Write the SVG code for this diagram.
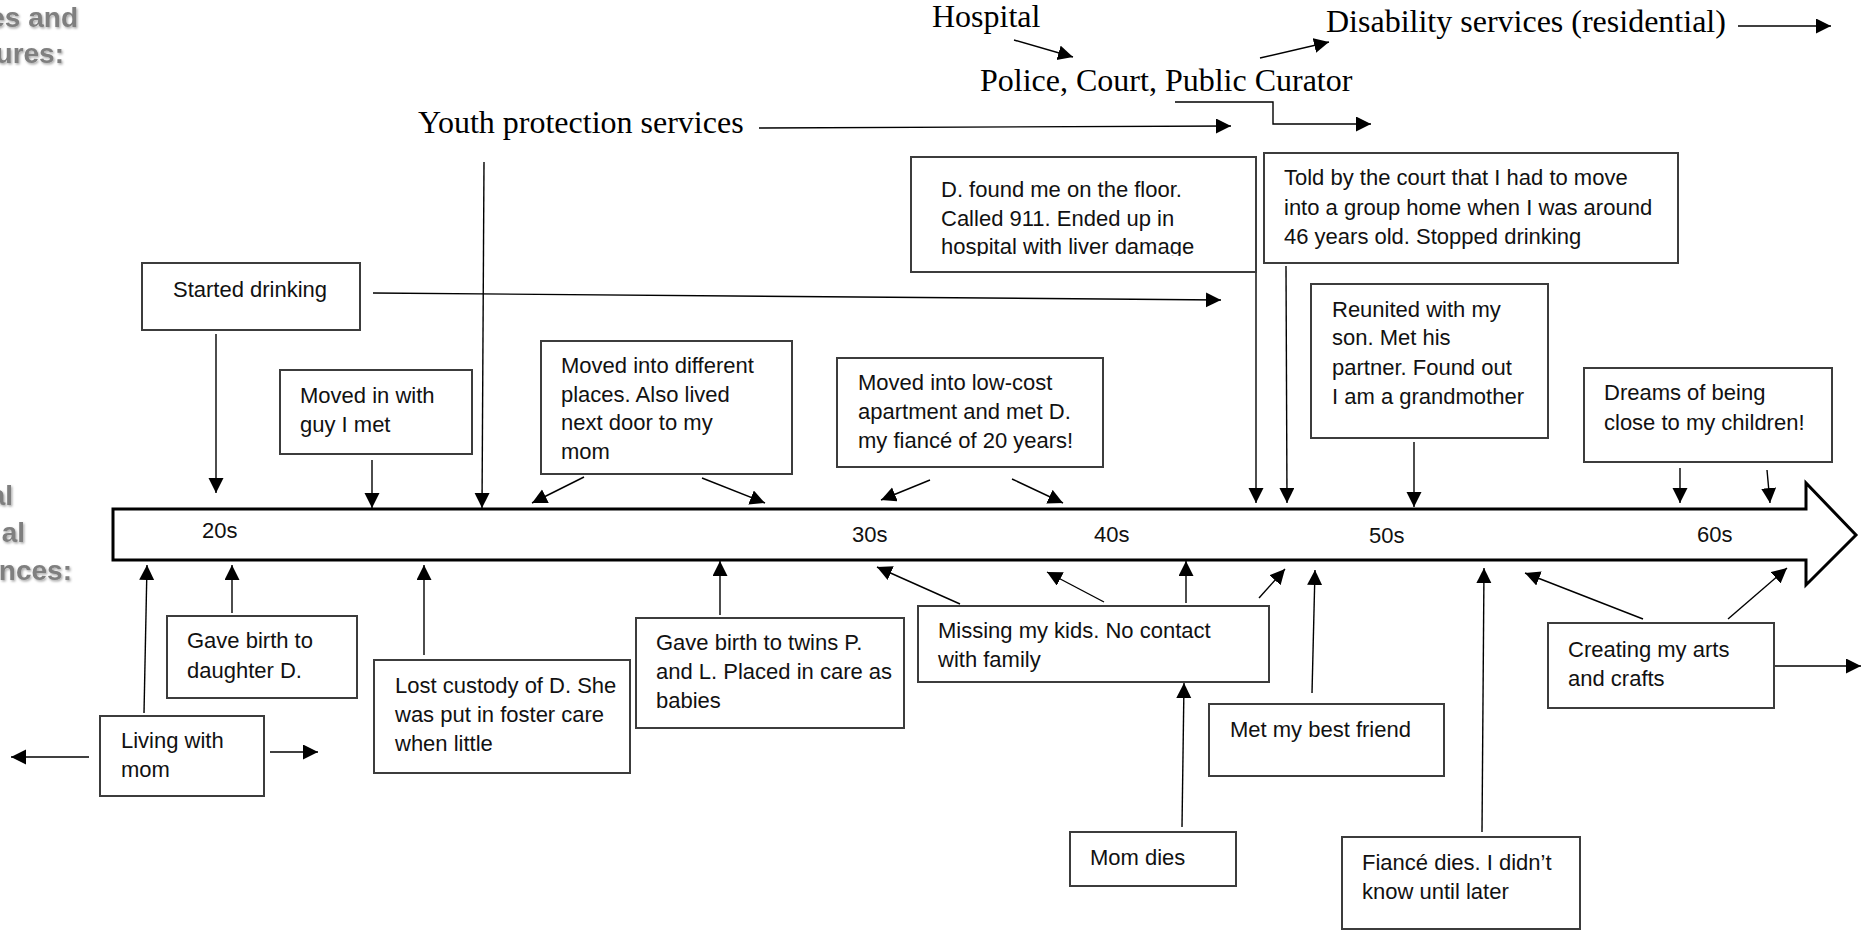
<svg xmlns="http://www.w3.org/2000/svg" width="1869" height="930" viewBox="0 0 1869 930">
<defs>
<style>
.box{fill:#fff;stroke:#3c3c3c;stroke-width:2}
.t{font-family:"Liberation Sans",Arial,sans-serif;font-size:22px;fill:#111}
.s{font-family:"Liberation Serif","Times New Roman",serif;font-size:32px;fill:#000}
.g{font-family:"Liberation Sans",Arial,sans-serif;font-size:28px;font-weight:bold;fill:#7f7f7f;text-anchor:end}
.c{fill:none;stroke:#000;stroke-width:1.4;marker-end:url(#ah)}
</style>
<marker id="ah" markerUnits="userSpaceOnUse" markerWidth="16" markerHeight="16" refX="15" refY="7.5" orient="auto" viewBox="0 0 16 16">
<path d="M0,0 L15,7.5 L0,15 z" fill="#000"/>
</marker>
<filter id="sh" x="-20%" y="-30%" width="150%" height="170%">
<feDropShadow dx="1.2" dy="1.5" stdDeviation="1" flood-color="#000" flood-opacity="0.35"/>
</filter>
<clipPath id="clipD"><rect x="911" y="157" width="345" height="99"/></clipPath>
</defs>
<rect width="1869" height="930" fill="#fff"/>

<g id="side-labels" filter="url(#sh)">
<text class="g" x="78" y="27">es and</text>
<text class="g" x="64" y="63">ures:</text>
<text class="g" x="13" y="505">al</text>
<text class="g" x="25" y="542">al</text>
<text class="g" x="72" y="580">nces:</text>
</g>

<g id="timeline">
<polygon points="113,509 1806,509 1806,483 1856,535 1806,585 1806,560 113,560" fill="#fff" stroke="#000" stroke-width="3"/>
<text class="t" x="202" y="538">20s</text>
<text class="t" x="852" y="542">30s</text>
<text class="t" x="1094" y="542">40s</text>
<text class="t" x="1369" y="543">50s</text>
<text class="t" x="1697" y="542">60s</text>
</g>

<g id="services">
<text class="s" x="418" y="133">Youth protection services</text>
<text class="s" x="932" y="27">Hospital</text>
<text class="s" x="980" y="91">Police, Court, Public Curator</text>
<text class="s" x="1326" y="32">Disability services (residential)</text>
</g>

<g id="connectors">
<path class="c" d="M216,334 L216,493"/>
<path class="c" d="M373,293 L1221,300"/>
<path class="c" d="M484,162 L482,508"/>
<path class="c" d="M759,128 L1231,126"/>
<path class="c" d="M372,460 L372,508"/>
<path class="c" d="M584,477 L532,503"/>
<path class="c" d="M702,478 L765,503"/>
<path class="c" d="M930,480 L881,500"/>
<path class="c" d="M1012,479 L1063,503"/>
<path class="c" d="M1256,272 L1256,503"/>
<path class="c" d="M1286,266 L1287,503"/>
<path class="c" d="M1414,442 L1414,507"/>
<path class="c" d="M1680,468 L1680,503"/>
<path class="c" d="M1767,470 L1770,503"/>
<path class="c" d="M1014,40 L1073,57"/>
<path class="c" d="M1260,58 L1329,42"/>
<path class="c" d="M1175,102 L1273,102 L1273,124 L1371,124"/>
<path class="c" d="M1738,26 L1831,26"/>
<path class="c" d="M144,713 L147,565"/>
<path class="c" d="M89,757 L11,757"/>
<path class="c" d="M270,752 L318,752"/>
<path class="c" d="M232,613 L232,565"/>
<path class="c" d="M424,655 L424,565"/>
<path class="c" d="M720,615 L720,561"/>
<path class="c" d="M960,604 L877,567"/>
<path class="c" d="M1104,602 L1047,572"/>
<path class="c" d="M1186,603 L1186,561"/>
<path class="c" d="M1259,598 L1285,569"/>
<path class="c" d="M1182,827 L1184,683"/>
<path class="c" d="M1312,693 L1315,570"/>
<path class="c" d="M1482,832 L1484,568"/>
<path class="c" d="M1643,619 L1525,573"/>
<path class="c" d="M1728,619 L1787,568"/>
<path class="c" d="M1770,666 L1861,666"/>
</g>

<g id="n-started"><rect class="box" x="142" y="263" width="218" height="67"/>
<text class="t" x="173" y="297">Started drinking</text></g>

<g id="n-movedin"><rect class="box" x="280" y="370" width="192" height="84"/>
<text class="t" x="300" y="403">Moved in with</text><text class="t" x="300" y="432">guy I met</text></g>

<g id="n-moveddiff"><rect class="box" x="541" y="341" width="251" height="133"/>
<text class="t" x="561" y="373">Moved into different</text><text class="t" x="561" y="402">places. Also lived</text>
<text class="t" x="561" y="430">next door to my</text><text class="t" x="561" y="459">mom</text></g>

<g id="n-lowcost"><rect class="box" x="837" y="358" width="266" height="109"/>
<text class="t" x="858" y="390">Moved into low-cost</text><text class="t" x="858" y="419">apartment and met D.</text>
<text class="t" x="858" y="448">my fiancé of 20 years!</text></g>

<g id="n-dfound"><rect class="box" x="911" y="157" width="345" height="115"/>
<g clip-path="url(#clipD)">
<text class="t" x="941" y="197">D. found me on the floor.</text><text class="t" x="941" y="226">Called 911. Ended up in</text>
<text class="t" x="941" y="254">hospital with liver damage</text></g></g>

<g id="n-told"><rect class="box" x="1264" y="153" width="414" height="110"/>
<text class="t" x="1284" y="185">Told by the court that I had to move</text>
<text class="t" x="1284" y="215">into a group home when I was around</text>
<text class="t" x="1284" y="244">46 years old. Stopped drinking</text></g>

<g id="n-reunited"><rect class="box" x="1311" y="284" width="237" height="154"/>
<text class="t" x="1332" y="317">Reunited with my</text><text class="t" x="1332" y="345">son. Met his</text>
<text class="t" x="1332" y="375">partner. Found out</text><text class="t" x="1332" y="404">I am a grandmother</text></g>

<g id="n-dreams"><rect class="box" x="1584" y="368" width="248" height="94"/>
<text class="t" x="1604" y="400">Dreams of being</text><text class="t" x="1604" y="430">close to my children!</text></g>

<g id="n-gavebirth"><rect class="box" x="167" y="616" width="190" height="82"/>
<text class="t" x="187" y="648">Gave birth to</text><text class="t" x="187" y="678">daughter D.</text></g>

<g id="n-living"><rect class="box" x="100" y="716" width="164" height="80"/>
<text class="t" x="121" y="748">Living with</text><text class="t" x="121" y="777">mom</text></g>

<g id="n-lostcustody"><rect class="box" x="374" y="660" width="256" height="113"/>
<text class="t" x="395" y="693">Lost custody of D. She</text><text class="t" x="395" y="722">was put in foster care</text>
<text class="t" x="395" y="751">when little</text></g>

<g id="n-twins"><rect class="box" x="636" y="618" width="268" height="110"/>
<text class="t" x="656" y="650">Gave birth to twins P.</text><text class="t" x="656" y="679">and L. Placed in care as</text>
<text class="t" x="656" y="708">babies</text></g>

<g id="n-missing"><rect class="box" x="918" y="606" width="351" height="76"/>
<text class="t" x="938" y="638">Missing my kids. No contact</text><text class="t" x="938" y="667">with family</text></g>

<g id="n-momdies"><rect class="box" x="1070" y="832" width="166" height="54"/>
<text class="t" x="1090" y="865">Mom dies</text></g>

<g id="n-bestfriend"><rect class="box" x="1209" y="704" width="235" height="72"/>
<text class="t" x="1230" y="737">Met my best friend</text></g>

<g id="n-fiance"><rect class="box" x="1342" y="837" width="238" height="92"/>
<text class="t" x="1362" y="870">Fiancé dies. I didn’t</text><text class="t" x="1362" y="899">know until later</text></g>

<g id="n-creating"><rect class="box" x="1548" y="623" width="226" height="85"/>
<text class="t" x="1568" y="657">Creating my arts</text><text class="t" x="1568" y="686">and crafts</text></g>
</svg>
